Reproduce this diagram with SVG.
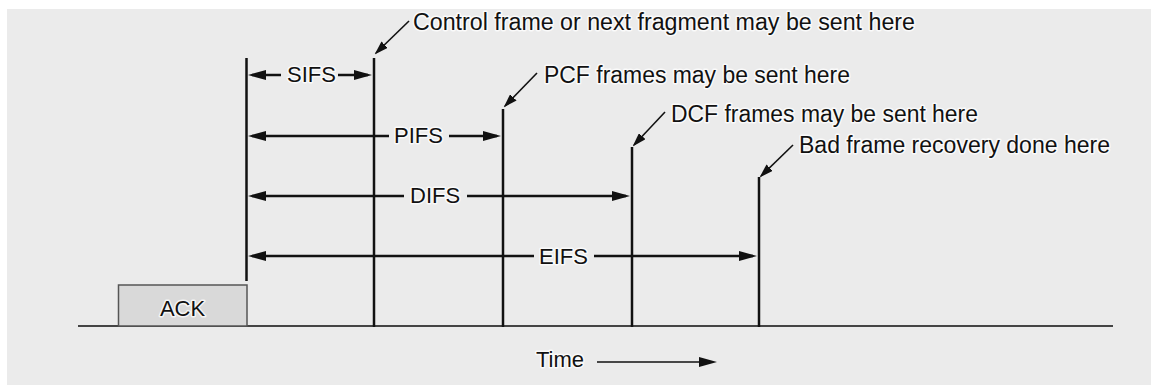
<svg xmlns="http://www.w3.org/2000/svg" width="1151" height="387" viewBox="0 0 1151 387">
<style>
text{font-family:"Liberation Sans",Arial,sans-serif;font-size:22px;fill:#111;stroke:#fff;stroke-width:3;stroke-opacity:0.75;paint-order:stroke;stroke-linejoin:round}
.ann{font-size:23px}
.v{stroke:#111;stroke-width:2.5;fill:none}
.dim{stroke:#111;stroke-width:2.5;fill:none}
.lead{stroke:#111;stroke-width:1.6;fill:none;marker-end:url(#lh)}
</style>
<defs>
<marker id="ah" viewBox="0 0 18 10" refX="14" refY="5" markerWidth="18" markerHeight="10" markerUnits="userSpaceOnUse" orient="auto-start-reverse">
<path d="M0,0 L18,5 L0,10 z" fill="#111"/>
</marker>
<marker id="lh" viewBox="0 0 14 9" refX="12" refY="4.5" markerWidth="14" markerHeight="9" markerUnits="userSpaceOnUse" orient="auto">
<path d="M0,0 L14,4.5 L0,9 z" fill="#111"/>
</marker>
</defs>
<rect x="7" y="9" width="1144" height="376" fill="#ebebeb"/>
<g id="timeline">
<line x1="78" y1="326" x2="1113" y2="326" stroke="#444" stroke-width="2"/>
</g>
<g id="ack">
<rect x="118.5" y="285" width="128.5" height="41" fill="#d9d9d9" stroke="#555" stroke-width="1.5"/>
<text x="182.5" y="316" text-anchor="middle">ACK</text>
</g>
<g id="start">
<line class="v" x1="246.5" y1="58" x2="246.5" y2="281"/>
</g>
<g id="sifs-point">
<line class="v" x1="374" y1="58" x2="374" y2="327"/>
</g>
<g id="pifs-point">
<line class="v" x1="503" y1="109" x2="503" y2="327"/>
</g>
<g id="difs-point">
<line class="v" x1="632" y1="147" x2="632" y2="327"/>
</g>
<g id="eifs-point">
<line class="v" x1="759" y1="177" x2="759" y2="327"/>
</g>
<g id="labels">
<text x="287" y="82">SIFS</text>
<text x="394" y="143">PIFS</text>
<text x="410" y="203">DIFS</text>
<text x="539" y="264">EIFS</text>
<text class="ann" x="413" y="30" textLength="502" lengthAdjust="spacingAndGlyphs">Control frame or next fragment may be sent here</text>
<text class="ann" x="544" y="83" textLength="306" lengthAdjust="spacingAndGlyphs">PCF frames may be sent here</text>
<text class="ann" x="671" y="122" textLength="307" lengthAdjust="spacingAndGlyphs">DCF frames may be sent here</text>
<text class="ann" x="799" y="153" textLength="311" lengthAdjust="spacingAndGlyphs">Bad frame recovery done here</text>
<text x="536" y="367">Time</text>
</g>
<g id="connectors">
<line class="dim" x1="252" y1="75" x2="281" y2="75" marker-start="url(#ah)"/>
<line class="dim" x1="338" y1="75" x2="368" y2="75" marker-end="url(#ah)"/>
<line class="dim" x1="252" y1="136" x2="389" y2="136" marker-start="url(#ah)"/>
<line class="dim" x1="449" y1="136" x2="497" y2="136" marker-end="url(#ah)"/>
<line class="dim" x1="252" y1="196" x2="404" y2="196" marker-start="url(#ah)"/>
<line class="dim" x1="467" y1="196" x2="626" y2="196" marker-end="url(#ah)"/>
<line class="dim" x1="252" y1="256" x2="534" y2="256" marker-start="url(#ah)"/>
<line class="dim" x1="594" y1="256" x2="753" y2="256" marker-end="url(#ah)"/>
<line stroke="#111" stroke-width="1.6" x1="597" y1="362" x2="713" y2="362" marker-end="url(#ah)"/>
<line class="lead" x1="409" y1="21" x2="376" y2="53"/>
<line class="lead" x1="537" y1="73" x2="505" y2="106"/>
<line class="lead" x1="665" y1="112" x2="634" y2="145"/>
<line class="lead" x1="793" y1="145" x2="761" y2="176"/>
</g>
</svg>
